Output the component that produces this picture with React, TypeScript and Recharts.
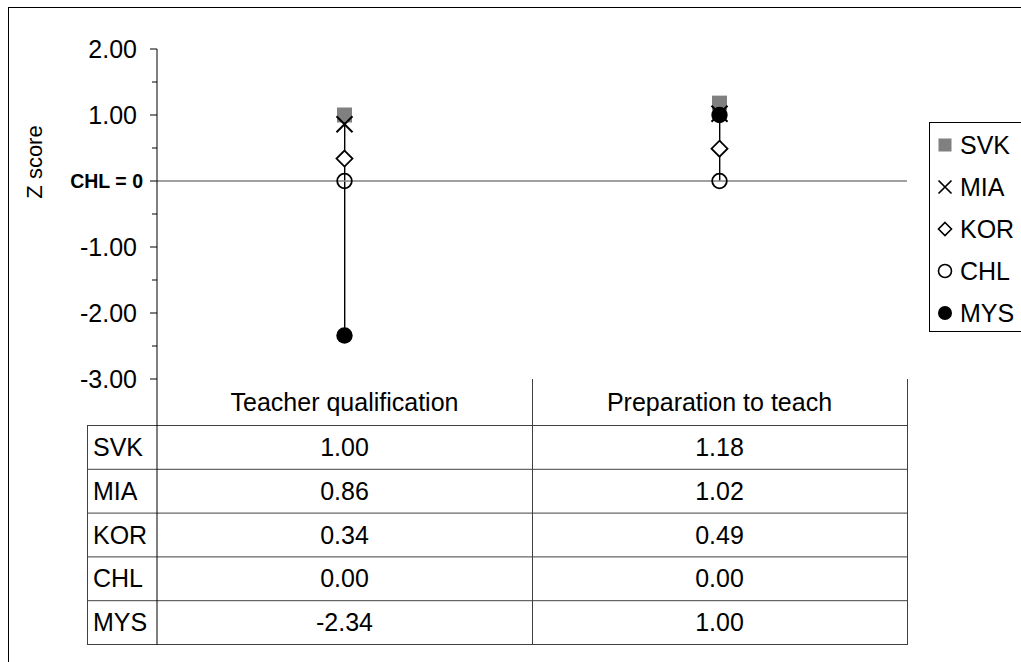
import React from 'react';
import { ComposedChart, Bar, Scatter, XAxis, YAxis, ReferenceLine } from 'recharts';

const categories = ['Teacher qualification', 'Preparation to teach'];
const countries = ['SVK', 'MIA', 'KOR', 'CHL', 'MYS'];
const svk = [1.0, 1.18];
const mia = [0.86, 1.02];
const kor = [0.34, 0.49];
const chl = [0.0, 0.0];
const mys = [-2.34, 1.0];
const yTicks = [-3, -2.5, -2, -1.5, -1, -0.5, 0, 0.5, 1, 1.5, 2];
const yTickLabels: Record<string, string> = {
  '2': '2.00',
  '1': '1.00',
  '0': 'CHL = 0',
  '-1': '-1.00',
  '-2': '-2.00',
  '-3': '-3.00',
};

const seriesValues = [svk, mia, kor, chl, mys];

const data = categories.map((cat, i) => {
  const vals = seriesValues.map((s) => s[i]);
  const row: any = { cat, range: [Math.min(...vals), Math.max(...vals)] };
  countries.forEach((c, k) => {
    row[c] = seriesValues[k][i];
  });
  return row;
});

const W = 1021;
const H = 662;
const PLOT_LEFT = 157;
const PLOT_RIGHT = 907;
const PLOT_TOP = 49;
const PLOT_BOTTOM = 379;
const HEADER_BOTTOM = 425;
const TABLE_BOTTOM = 644;
const LABEL_LEFT = 87;
const FONT = '"Liberation Sans", Arial, Helvetica, sans-serif';
const FS = 25;

const SquareShape = (p: any) => (
  <rect x={p.cx - 7.5} y={p.cy - 7.5} width={15} height={15} fill="#808080" />
);
const CrossShape = (p: any) => {
  const { cx, cy } = p;
  const s = 8;
  return (
    <path
      d={`M${cx - s},${cy - s}L${cx + s},${cy + s}M${cx - s},${cy + s}L${cx + s},${cy - s}`}
      stroke="#000"
      strokeWidth={2}
      fill="none"
    />
  );
};
const DiamondShape = (p: any) => {
  const { cx, cy } = p;
  const s = 8;
  return (
    <path
      d={`M${cx},${cy - s}L${cx + s},${cy}L${cx},${cy + s}L${cx - s},${cy}Z`}
      fill="#fff"
      stroke="#000"
      strokeWidth={1.8}
    />
  );
};
const CircleOpen = (p: any) => (
  <circle cx={p.cx} cy={p.cy} r={7.3} fill="none" stroke="#000" strokeWidth={1.8} />
);
const CircleFilled = (p: any) => <circle cx={p.cx} cy={p.cy} r={8.2} fill="#000" />;

const shapes = [SquareShape, CrossShape, DiamondShape, CircleOpen, CircleFilled];

const YTick = (props: any) => {
  const { x, y, payload } = props;
  const v = payload.value;
  const key = String(v);
  const label = yTickLabels[key];
  const major = label !== undefined;
  return (
    <g>
      <line x1={x - (major ? 7 : 5)} x2={x} y1={y} y2={y} stroke="#000" strokeWidth={1} />
      {major && (
        <text
          x={v === 0 ? x - 14 : x - 20}
          y={y}
          dy="0.36em"
          textAnchor="end"
          fontFamily={FONT}
          fontSize={v === 0 ? 19.5 : FS}
          fontWeight={v === 0 ? 'bold' : 'normal'}
          fill="#000"
        >
          {label}
        </text>
      )}
    </g>
  );
};

const LegendMarker = ({ k, cx, cy }: { k: number; cx: number; cy: number }) => {
  const s = 6.5;
  if (k === 0) return <rect x={cx - s} y={cy - s} width={2 * s} height={2 * s} fill="#808080" />;
  if (k === 1)
    return (
      <path
        d={`M${cx - s},${cy - s}L${cx + s},${cy + s}M${cx - s},${cy + s}L${cx + s},${cy - s}`}
        stroke="#000"
        strokeWidth={1.7}
      />
    );
  if (k === 2)
    return (
      <path
        d={`M${cx},${cy - s}L${cx + s},${cy}L${cx},${cy + s}L${cx - s},${cy}Z`}
        fill="#fff"
        stroke="#000"
        strokeWidth={1.6}
      />
    );
  if (k === 3) return <circle cx={cx} cy={cy} r={s} fill="none" stroke="#000" strokeWidth={1.6} />;
  return <circle cx={cx} cy={cy} r={s + 0.5} fill="#000" />;
};

export default function App() {
  const n = categories.length;
  const colW = (PLOT_RIGHT - PLOT_LEFT) / n;
  const rowH = (TABLE_BOTTOM - HEADER_BOTTOM) / countries.length;
  const lineColor = '#404040';
  const legendTop = 122;
  const legendBottom = 331;
  const legendStep = 42;
  const legendFirst = 145;

  return (
    <div
      style={{
        position: 'fixed',
        left: 0,
        top: 0,
        width: W,
        height: H,
        overflow: 'hidden',
        background: '#fff',
      }}
    >
      <div
        style={{
          position: 'absolute',
          left: 8,
          top: 7,
          width: 1200,
          height: 1000,
          border: '1px solid #000',
          boxSizing: 'border-box',
        }}
      />
      <div style={{ position: 'absolute', left: 0, top: 0 }}>
        <ComposedChart
          width={W}
          height={H}
          data={data}
          margin={{ top: PLOT_TOP, right: W - PLOT_RIGHT, bottom: H - PLOT_BOTTOM, left: 0 }}
        >
          <XAxis
            dataKey="cat"
            type="category"
            tick={false}
            tickLine={false}
            height={0}
            axisLine={{ stroke: '#000', strokeWidth: 1 }}
          />
          <YAxis
            type="number"
            domain={[-3, 2]}
            ticks={yTicks}
            interval={0}
            width={PLOT_LEFT}
            tickSize={0}
            tickMargin={0}
            tickLine={false}
            axisLine={{ stroke: '#000', strokeWidth: 1 }}
            tick={<YTick />}
            allowDataOverflow
          />
          <ReferenceLine y={0} stroke="#808080" strokeWidth={1.5} />
          <Bar dataKey="range" barSize={1.4} fill="#000" isAnimationActive={false} />
          {countries.map((c, k) => (
            <Scatter
              key={c}
              name={c}
              dataKey={c}
              shape={shapes[k]}
              isAnimationActive={false}
            />
          ))}
        </ComposedChart>
      </div>
      <svg
        width={W}
        height={H}
        style={{ position: 'absolute', left: 0, top: 0, pointerEvents: 'none' }}
      >
        <text
          transform="translate(34,162) rotate(-90)"
          textAnchor="middle"
          dy="0.35em"
          fontFamily={FONT}
          fontSize={22}
          fill="#000"
        >
          Z score
        </text>

        {/* table grid */}
        {countries.map((c, k) => (
          <line
            key={'h' + k}
            x1={LABEL_LEFT}
            x2={PLOT_RIGHT}
            y1={HEADER_BOTTOM + k * rowH + 0.5}
            y2={HEADER_BOTTOM + k * rowH + 0.5}
            stroke={lineColor}
            strokeWidth={1}
          />
        ))}
        <line
          x1={LABEL_LEFT}
          x2={PLOT_RIGHT}
          y1={TABLE_BOTTOM + 0.5}
          y2={TABLE_BOTTOM + 0.5}
          stroke={lineColor}
          strokeWidth={1}
        />
        <line
          x1={LABEL_LEFT + 0.5}
          x2={LABEL_LEFT + 0.5}
          y1={HEADER_BOTTOM}
          y2={TABLE_BOTTOM + 1}
          stroke={lineColor}
          strokeWidth={1}
        />
        <line x1={PLOT_LEFT} x2={PLOT_LEFT} y1={PLOT_BOTTOM} y2={TABLE_BOTTOM + 1} stroke="#000" strokeWidth={1} />
        {categories.map((cat, i) => (
          <line
            key={'v' + i}
            x1={PLOT_LEFT + (i + 1) * colW + 0.5}
            x2={PLOT_LEFT + (i + 1) * colW + 0.5}
            y1={PLOT_BOTTOM}
            y2={TABLE_BOTTOM + 1}
            stroke={lineColor}
            strokeWidth={1}
          />
        ))}
        {categories.map((cat, i) => (
          <text
            key={'c' + i}
            x={PLOT_LEFT + (i + 0.5) * colW}
            y={(PLOT_BOTTOM + HEADER_BOTTOM) / 2}
            dy="0.36em"
            textAnchor="middle"
            fontFamily={FONT}
            fontSize={FS}
            fill="#000"
          >
            {cat}
          </text>
        ))}
        {countries.map((c, k) => (
          <g key={'r' + k}>
            <text
              x={LABEL_LEFT + 6}
              y={HEADER_BOTTOM + (k + 0.5) * rowH}
              dy="0.36em"
              fontFamily={FONT}
              fontSize={FS}
              fill="#000"
            >
              {c}
            </text>
            {categories.map((cat, i) => (
              <text
                key={i}
                x={PLOT_LEFT + (i + 0.5) * colW}
                y={HEADER_BOTTOM + (k + 0.5) * rowH}
                dy="0.36em"
                textAnchor="middle"
                fontFamily={FONT}
                fontSize={FS}
                fill="#000"
              >
                {seriesValues[k][i].toFixed(2)}
              </text>
            ))}
          </g>
        ))}

        {/* legend */}
        <rect
          x={929.5}
          y={legendTop + 0.5}
          width={200}
          height={legendBottom - legendTop}
          fill="#fff"
          stroke="#000"
          strokeWidth={1}
        />
        {countries.map((c, k) => (
          <g key={'l' + k}>
            <LegendMarker k={k} cx={945} cy={legendFirst + k * legendStep} />
            <text
              x={960}
              y={legendFirst + k * legendStep}
              dy="0.36em"
              fontFamily={FONT}
              fontSize={FS}
              fill="#000"
            >
              {c}
            </text>
          </g>
        ))}
      </svg>
    </div>
  );
}
